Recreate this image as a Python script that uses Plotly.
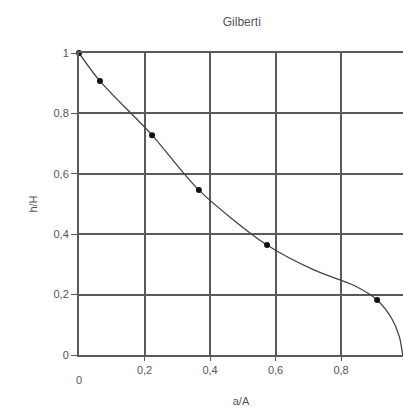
import plotly.graph_objects as go

title = "Gilberti"
x_label = "a/A"
y_label = "h/H"

# measured points (markers)
pts_x = [0.0, 0.064, 0.223, 0.366, 0.574, 0.91]
pts_y = [1.0, 0.907, 0.728, 0.546, 0.364, 0.182]

# fitted curve
curve_x = [0.0, 0.064, 0.223, 0.366, 0.574, 0.72, 0.84, 0.91, 0.955, 0.978, 0.988]
curve_y = [1.0, 0.907, 0.728, 0.546, 0.364, 0.28, 0.23, 0.182, 0.12, 0.06, 0.0]

x_ticks = [0, 0.2, 0.4, 0.6, 0.8, 1.0]
x_ticktext = ["0", "0,2", "0,4", "0,6", "0,8", "1"]
y_ticks = [0, 0.2, 0.4, 0.6, 0.8, 1.0]
y_ticktext = ["0", "0,2", "0,4", "0,6", "0,8", "1"]

grid_c = "#5a5a5a"
txt_c = "#555555"

fig = go.Figure()
fig.add_trace(go.Scatter(x=curve_x, y=curve_y, mode="lines", line=dict(color="#444444", width=1.3, shape="spline", smoothing=0.8), cliponaxis=False, hoverinfo="skip"))
fig.add_trace(go.Scatter(x=pts_x, y=pts_y, mode="markers", marker=dict(color="#111111", size=6), cliponaxis=False))

fig.update_layout(
    width=403, height=415,
    margin=dict(l=79, r=0, t=53, b=60),
    paper_bgcolor="white", plot_bgcolor="white",
    showlegend=False,
    font=dict(family="Liberation Sans, Arial", size=11, color=txt_c),
    title=dict(text=title, x=0.6, xanchor="center", y=1 - 22 / 415, yanchor="middle", font=dict(size=12, color=txt_c)),
)
fig.update_xaxes(
    range=[0, 0.989], tickvals=x_ticks[1:], ticktext=x_ticktext[1:],
    showgrid=True, gridcolor=grid_c, gridwidth=2,
    zeroline=False, showline=True, linecolor=grid_c, linewidth=2, mirror=True,
    ticks="outside", ticklen=4, tickcolor=grid_c, tickwidth=1,
    title=dict(text=x_label, standoff=22, font=dict(size=11, color=txt_c)),
    tickfont=dict(size=11, color=txt_c),
)
fig.update_yaxes(
    range=[0, 1], tickvals=y_ticks, ticktext=y_ticktext,
    showgrid=True, gridcolor=grid_c, gridwidth=2,
    zeroline=False, showline=True, linecolor=grid_c, linewidth=2,
    ticks="outside", ticklen=6, tickcolor=grid_c, tickwidth=1,
    title=dict(text=y_label, standoff=14, font=dict(size=11, color=txt_c)),
    tickfont=dict(size=11, color=txt_c),
)
# x-axis "0" label sits lower in the reference
fig.add_annotation(x=x_ticks[0], y=0, xref="x", yref="paper", text=x_ticktext[0], showarrow=False, yshift=-33, font=dict(size=11, color=txt_c))

fig.write_html("out.html")
